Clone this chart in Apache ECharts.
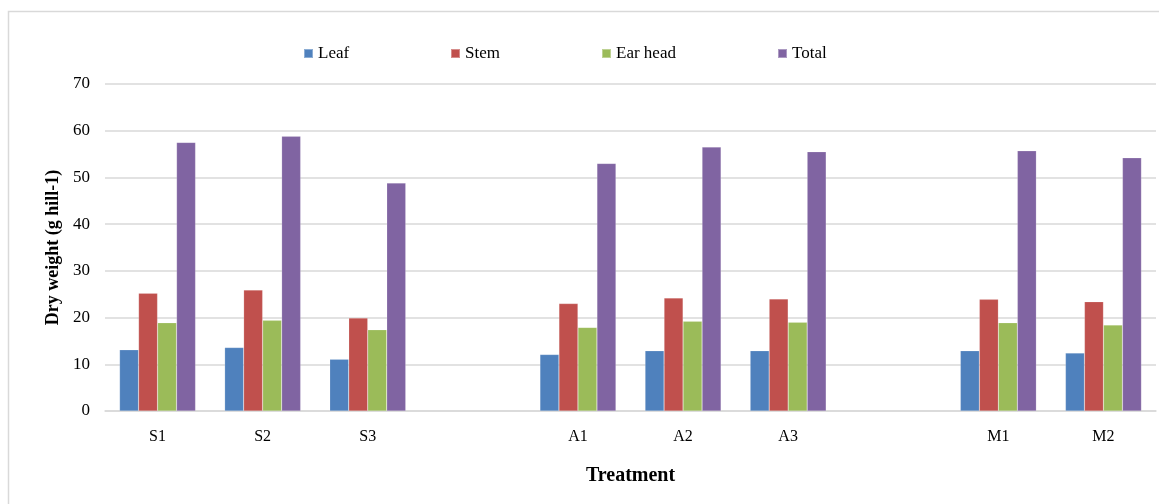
<!DOCTYPE html>
<html>
<head>
<meta charset="utf-8">
<script src="https://cdn.jsdelivr.net/npm/echarts@6/dist/echarts.min.js"></script>
<style>
html,body{margin:0;padding:0;background:#fff;}
#chart{width:1159px;height:504px;}
</style>
</head>
<body>
<div id="chart"></div>
<script>
const categories = ['S1','S2','S3','','A1','A2','A3','','M1','M2'];
const seriesNames = ['Leaf','Stem','Ear head','Total'];
const leaf    = [13.1, 13.6, 11.1, null, 12.1, 12.9, 12.9, null, 12.9, 12.4];
const stem    = [25.2, 25.9, 19.9, null, 23.0, 24.2, 24.0, null, 23.9, 23.4];
const earHead = [18.9, 19.4, 17.4, null, 17.9, 19.2, 19.0, null, 18.9, 18.4];
const total   = [57.5, 58.8, 48.8, null, 53.0, 56.5, 55.5, null, 55.7, 54.2];
const yTicks = {min: 0, max: 70, interval: 10};

const colors = ['#4F81BD','#C0504D','#9BBB59','#8064A2'];
const values = [leaf, stem, earHead, total];
const font = '"Liberation Serif", "Times New Roman", serif';

const legendLefts = [303, 450, 601, 777];
const legends = seriesNames.map((n, i) => ({
  data: [n],
  left: legendLefts[i],
  top: 45,
  padding: 0,
  icon: 'rect',
  itemWidth: 9,
  itemHeight: 9,
  itemGap: 5,
  selectedMode: false,
  textStyle: {fontFamily: font, fontSize: 17, color: '#000'}
}));

const chart = echarts.init(document.getElementById('chart'));
chart.setOption({
  animation: false,
  backgroundColor: '#fff',
  color: colors,
  graphic: [{
    type: 'rect',
    left: 6, top: 9,
    shape: {x: 0, y: 0, width: 1200, height: 600},
    style: {fill: 'none', stroke: '#d9d9d9', lineWidth: 1.5},
    silent: true, z: -1
  }],
  legend: legends,
  grid: {left: 105, right: 3, top: 84, bottom: 93, containLabel: false},
  xAxis: {
    type: 'category',
    data: categories,
    axisTick: {show: false},
    axisLine: {show: true, lineStyle: {color: '#d9d9d9', width: 1.5}},
    axisLabel: {fontFamily: font, fontSize: 16, color: '#000', margin: 18, interval: 0},
    name: 'Treatment',
    nameLocation: 'middle',
    nameGap: 55,
    nameTextStyle: {fontFamily: font, fontSize: 20, fontWeight: 'bold', color: '#000'}
  },
  yAxis: {
    type: 'value',
    min: yTicks.min, max: yTicks.max, interval: yTicks.interval,
    axisLine: {show: false},
    axisTick: {show: false},
    splitLine: {lineStyle: {color: '#d9d9d9', width: 1.5}},
    axisLabel: {fontFamily: font, fontSize: 17, color: '#000', margin: 15},
    name: 'Dry weight (g hill-1)',
    nameLocation: 'middle',
    nameGap: 43,
    nameTextStyle: {fontFamily: font, fontSize: 18, fontWeight: 'bold', color: '#000'}
  },
  series: seriesNames.map((n, i) => ({
    name: n,
    type: 'bar',
    data: values[i],
    barWidth: 19,
    barGap: '0%',
    itemStyle: {color: colors[i], borderColor: 'rgba(255,255,255,0.35)', borderWidth: 0.5}
  }))
});
</script>
</body>
</html>
